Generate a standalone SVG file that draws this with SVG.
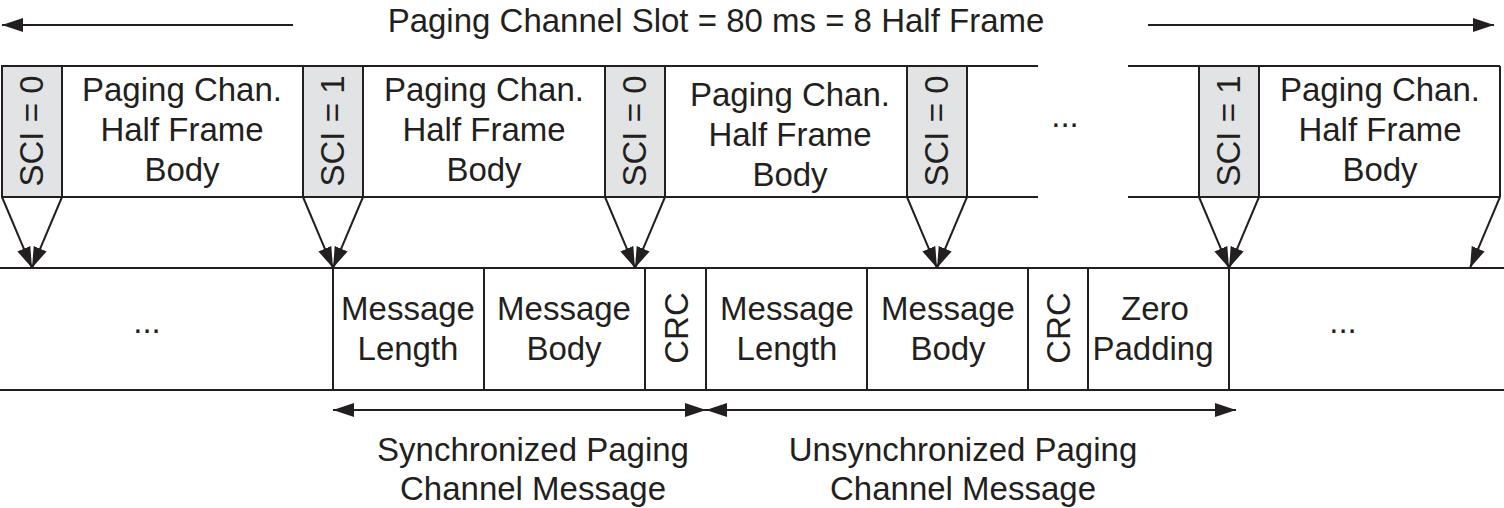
<svg xmlns="http://www.w3.org/2000/svg" width="1504" height="508" viewBox="0 0 1504 508">
<style>
text{font-family:"Liberation Sans",Arial,sans-serif;font-size:33px;fill:#231f20;text-anchor:middle}
.ln{stroke:#231f20;stroke-width:2;fill:none}
.sci{fill:#e1e3e5;stroke:#231f20;stroke-width:2}
.box{fill:#ffffff;stroke:#231f20;stroke-width:2}
.ar{stroke:#231f20;stroke-width:2;fill:none;marker-end:url(#ah)}
.dar{stroke:#231f20;stroke-width:2;fill:none;marker-start:url(#ah);marker-end:url(#ah)}
</style>
<defs>
<marker id="ah" viewBox="0 0 21 14" refX="21" refY="7" markerWidth="21" markerHeight="14" markerUnits="userSpaceOnUse" orient="auto-start-reverse">
<path d="M0,0 L21,7 L0,14 z" fill="#231f20"/>
</marker>
</defs>
<rect width="1504" height="508" fill="#ffffff"/>

<g id="title">
<text x="716" y="32">Paging Channel Slot = 80 ms = 8 Half Frame</text>
</g>

<g id="top-band">
<line class="ln" x1="2" y1="66" x2="1038" y2="66"/>
<line class="ln" x1="1128" y1="66" x2="1500" y2="66"/>
<line class="ln" x1="2" y1="197" x2="1038" y2="197"/>
<line class="ln" x1="1128" y1="197" x2="1500" y2="197"/>
<line class="ln" x1="1500" y1="66" x2="1500" y2="197"/>
</g>

<g id="sci1"><rect class="sci" x="2" y="66" width="60" height="131"/><text transform="translate(43,131) rotate(-90)">SCI = 0</text></g>
<g id="body1"><text x="182" y="101">Paging Chan.</text><text x="182" y="141">Half Frame</text><text x="182" y="181">Body</text></g>
<g id="sci2"><rect class="sci" x="303" y="66" width="60" height="131"/><text transform="translate(344,131) rotate(-90)">SCI = 1</text></g>
<g id="body2"><text x="484" y="101">Paging Chan.</text><text x="484" y="141">Half Frame</text><text x="484" y="181">Body</text></g>
<g id="sci3"><rect class="sci" x="605" y="66" width="60" height="131"/><text transform="translate(646,131) rotate(-90)">SCI = 0</text></g>
<g id="body3"><text x="790" y="106">Paging Chan.</text><text x="790" y="146">Half Frame</text><text x="790" y="186">Body</text></g>
<g id="sci4"><rect class="sci" x="907" y="66" width="60" height="131"/><text transform="translate(948,131) rotate(-90)">SCI = 0</text></g>
<g id="gap-top"><text x="1065" y="127">...</text></g>
<g id="sci5"><rect class="sci" x="1199" y="66" width="60" height="131"/><text transform="translate(1240,131) rotate(-90)">SCI = 1</text></g>
<g id="body5"><text x="1380" y="101">Paging Chan.</text><text x="1380" y="141">Half Frame</text><text x="1380" y="181">Body</text></g>

<g id="bottom-band">
<line class="ln" x1="0" y1="268" x2="1504" y2="268"/>
<line class="ln" x1="0" y1="390" x2="1504" y2="390"/>
<line class="ln" x1="333" y1="268" x2="333" y2="390"/>
<line class="ln" x1="484" y1="268" x2="484" y2="390"/>
<line class="ln" x1="645" y1="268" x2="645" y2="390"/>
<line class="ln" x1="706" y1="268" x2="706" y2="390"/>
<line class="ln" x1="867" y1="268" x2="867" y2="390"/>
<line class="ln" x1="1028" y1="268" x2="1028" y2="390"/>
<line class="ln" x1="1088" y1="268" x2="1088" y2="390"/>
<line class="ln" x1="1229" y1="268" x2="1229" y2="390"/>
</g>
<g id="gap-left"><text x="147" y="333">...</text></g>
<g id="msglen1"><text x="408" y="320">Message</text><text x="408" y="360">Length</text></g>
<g id="msgbody1"><text x="564" y="320">Message</text><text x="564" y="360">Body</text></g>
<g id="crc1"><text transform="translate(688,328) rotate(-90)">CRC</text></g>
<g id="msglen2"><text x="787" y="320">Message</text><text x="787" y="360">Length</text></g>
<g id="msgbody2"><text x="948" y="320">Message</text><text x="948" y="360">Body</text></g>
<g id="crc2"><text transform="translate(1070,328) rotate(-90)">CRC</text></g>
<g id="zeropad"><text x="1155" y="320">Zero</text><text x="1153" y="360">Padding</text></g>
<g id="gap-right"><text x="1343" y="333">...</text></g>

<g id="label-sync"><text x="533" y="461">Synchronized Paging</text><text x="533" y="500">Channel Message</text></g>
<g id="label-unsync"><text x="963" y="461">Unsynchronized Paging</text><text x="963" y="500">Channel Message</text></g>

<g id="connectors">
<line class="ar" x1="293" y1="25" x2="2" y2="25"/>
<line class="ar" x1="1148" y1="25" x2="1494" y2="25"/>
<line class="ar" x1="2" y1="197" x2="32" y2="268"/>
<line class="ar" x1="62" y1="197" x2="32" y2="268"/>
<line class="ar" x1="303" y1="197" x2="333" y2="268"/>
<line class="ar" x1="363" y1="197" x2="333" y2="268"/>
<line class="ar" x1="605" y1="197" x2="635" y2="268"/>
<line class="ar" x1="665" y1="197" x2="635" y2="268"/>
<line class="ar" x1="907" y1="197" x2="937" y2="268"/>
<line class="ar" x1="967" y1="197" x2="937" y2="268"/>
<line class="ar" x1="1199" y1="197" x2="1229" y2="268"/>
<line class="ar" x1="1259" y1="197" x2="1229" y2="268"/>
<line class="ar" x1="1500" y1="197" x2="1470" y2="268"/>
<line class="dar" x1="333" y1="410" x2="706" y2="410"/>
<line class="dar" x1="706" y1="410" x2="1236" y2="410"/>
</g>
</svg>
